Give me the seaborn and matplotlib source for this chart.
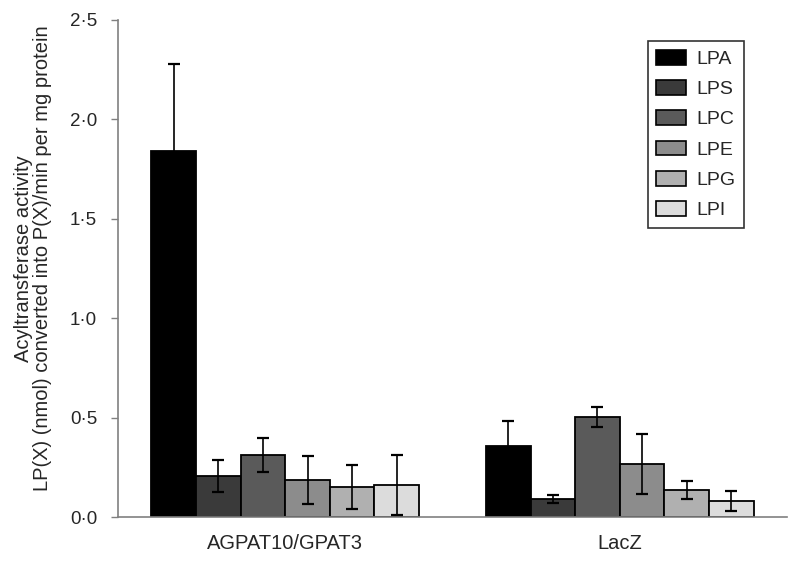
import numpy as np
import pandas as pd
import seaborn as sns
import matplotlib
matplotlib.use("Agg")
import matplotlib.pyplot as plt
from matplotlib.ticker import FuncFormatter
from matplotlib.patches import Patch

groups = ["AGPAT10/GPAT3", "LacZ"]
lipids = ["LPA", "LPS", "LPC", "LPE", "LPG", "LPI"]
agpat_vals = [1.84, 0.205, 0.31, 0.185, 0.15, 0.16]
agpat_err = [0.44, 0.08, 0.085, 0.12, 0.11, 0.15]
lacz_vals = [0.355, 0.09, 0.505, 0.265, 0.135, 0.08]
lacz_err = [0.13, 0.02, 0.05, 0.15, 0.045, 0.05]
colors = ["#000000", "#3a3a3a", "#5a5a5a", "#8c8c8c", "#b0b0b0", "#dcdcdc"]
yticks = [0.0, 0.5, 1.0, 1.5, 2.0, 2.5]

rows = []
for g, vals in zip(groups, [agpat_vals, lacz_vals]):
    for l, v in zip(lipids, vals):
        rows.append({"group": g, "lipid": l, "value": v})
df = pd.DataFrame(rows)
errs = {groups[0]: agpat_err, groups[1]: lacz_err}

sns.set_style("white")
plt.rcParams["font.family"] = ["Liberation Sans", "DejaVu Sans"]

fig = plt.figure(figsize=(8, 5.66), dpi=100)
ax = fig.add_axes([118 / 800, 1 - 517 / 566, (787 - 118) / 800, (517 - 20) / 566])

sns.barplot(data=df, x="group", y="value", hue="lipid", palette=colors,
            order=groups, hue_order=lipids, errorbar=None, width=0.8, saturation=1,
            edgecolor="black", linewidth=1.3, ax=ax, legend=False)

bar_containers = list(ax.containers)
for i, cont in enumerate(bar_containers):
    for j, p in enumerate(cont.patches):
        x = p.get_x() + p.get_width() / 2
        y = p.get_height()
        e = errs[groups[j]][i]
        ax.errorbar(x, y, yerr=e, fmt="none", ecolor="black", elinewidth=1.2,
                    capsize=4.5, capthick=1.6, zorder=5)

ax.set_xlim(-0.5, 1.5)
ax.set_ylim(0, 2.5)
ax.set_yticks(yticks)
ax.yaxis.set_major_formatter(FuncFormatter(lambda v, pos: f"{v:.1f}".replace(".", "·")))
ax.set_xticks([0, 1])
ax.set_xticklabels(groups)
ax.set_xticks([0.5, 1.5], minor=True)
ax.tick_params(axis="x", which="major", length=0, labelsize=14.5, pad=12)
ax.tick_params(axis="x", which="minor", length=5, width=1, color="#808080", direction="out")
ax.tick_params(axis="y", length=5, width=1, color="#808080", direction="out", labelsize=13.5,
               pad=10, left=True)
ax.set_xlabel("")
ax.set_ylabel("Acyltransferase activity\nLP(X) (nmol) converted into P(X)/min per mg protein",
              fontsize=14.5, linespacing=1.05)
ax.yaxis.set_label_coords(-0.098, 0.52)

for s in ["top", "right"]:
    ax.spines[s].set_visible(False)
for s in ["left", "bottom"]:
    ax.spines[s].set_color("#808080")
    ax.spines[s].set_linewidth(1.2)

handles = [Patch(facecolor=c, edgecolor="black", linewidth=1.2, label=l) for c, l in zip(colors, lipids)]
leg = ax.legend(handles=handles, loc="upper right", bbox_to_anchor=(744 / 800, 1 - 41 / 566),
                bbox_transform=fig.transFigure, fontsize=14, frameon=True, fancybox=False,
                handlelength=1.55, handleheight=0.8, labelspacing=0.62, borderpad=0.45,
                handletextpad=0.5, borderaxespad=0)
leg.get_frame().set_edgecolor("black")
leg.get_frame().set_linewidth(1.2)

fig.savefig("out.png", dpi=100)
